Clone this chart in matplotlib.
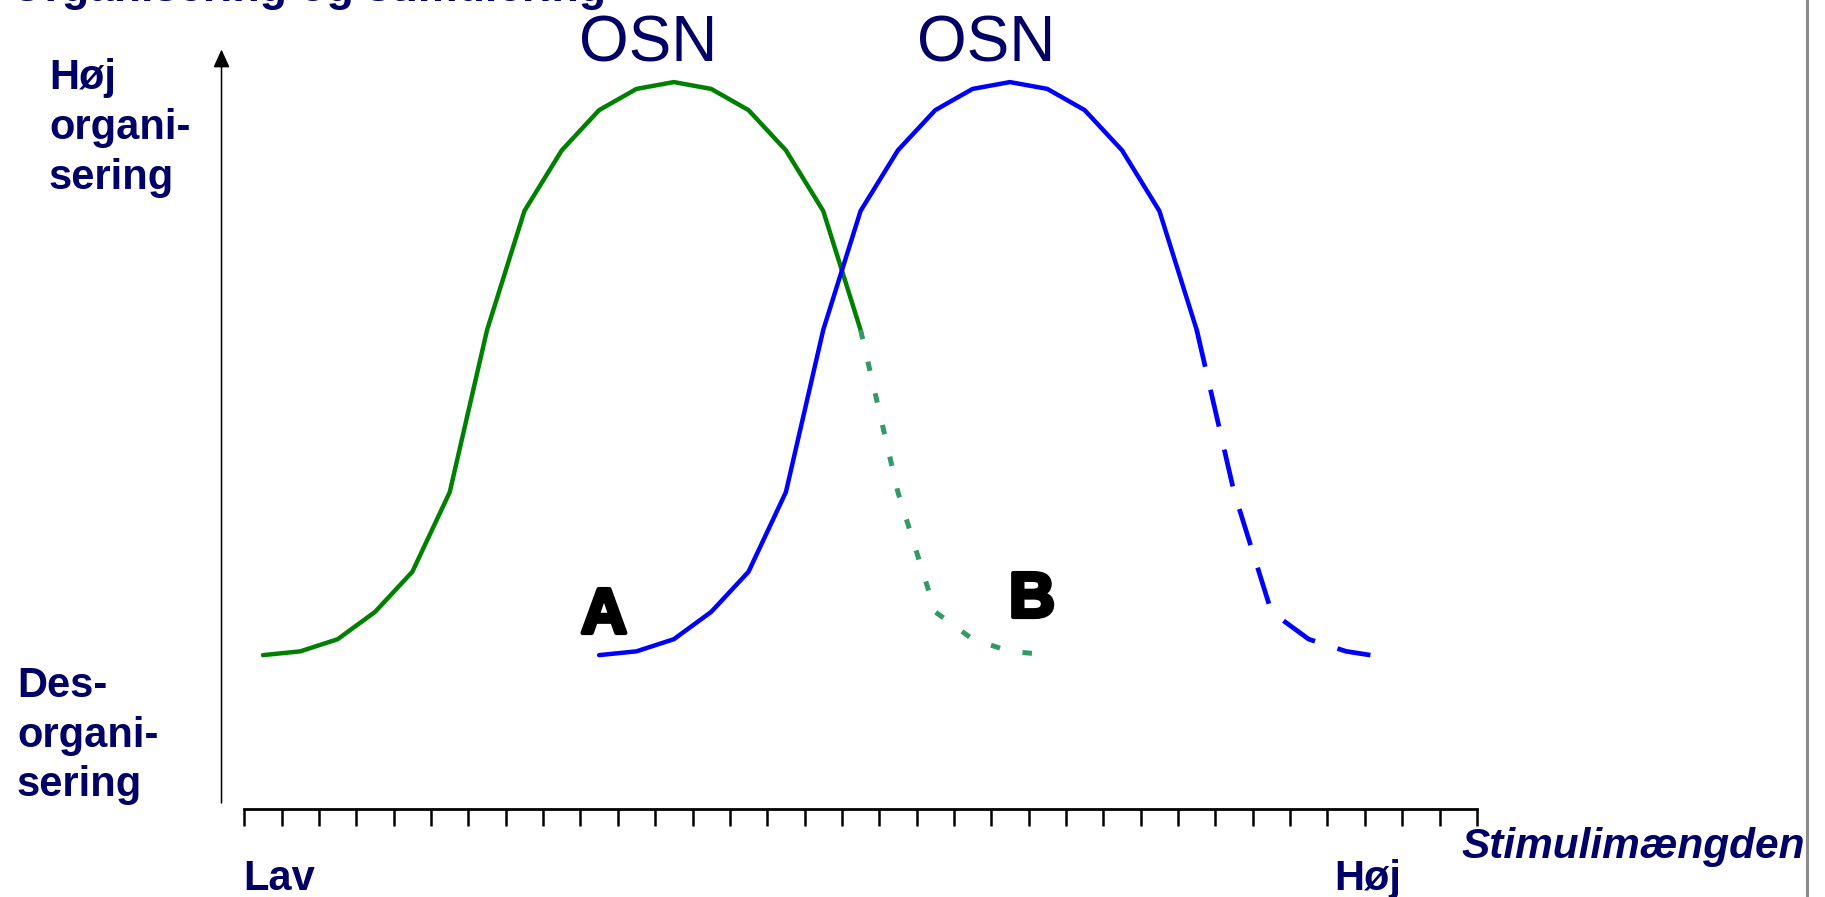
import matplotlib
matplotlib.use("Agg")
import matplotlib.pyplot as plt
import matplotlib.patheffects as pe
from matplotlib.lines import Line2D

# stimulus steps (tick units) and level of organisation (0 = des-, 100 = high)
green_x = [0.5, 1.5, 2.5, 3.5, 4.5, 5.5, 6.5, 7.5, 8.5, 9.5, 10.5, 11.5,
           12.5, 13.5, 14.5, 15.5, 16.5]
green_y = [20.3, 20.8, 22.4, 26.0, 31.3, 41.8, 63.2, 78.9, 86.9, 92.2, 95.0, 95.9,
           95.0, 92.2, 86.9, 78.9, 63.2]
green_drop_x = [16.5, 17.5, 18.5, 19.5, 20.5, 21.6]
green_drop_y = [63.2, 41.8, 26.0, 22.4, 20.8, 20.3]

blue_x = [9.5, 10.5, 11.5, 12.5, 13.5, 14.5, 15.5, 16.5, 17.5, 18.5, 19.5, 20.5,
          21.5, 22.5, 23.5, 24.5, 25.5]
blue_y = [20.3, 20.8, 22.4, 26.0, 31.3, 41.8, 63.2, 78.9, 86.9, 92.2, 95.0, 95.9,
          95.0, 92.2, 86.9, 78.9, 63.2]
blue_drop_x = [25.5, 26.5, 27.5, 28.5, 29.5, 30.15]
blue_drop_y = [63.2, 41.8, 26.0, 22.4, 20.8, 20.3]

n_ticks = 34
peak_labels = ["OSN", "OSN"]
y_top_label = ["Høj", "organi-", "sering"]
y_bottom_label = ["Des-", "organi-", "sering"]

W, H = 1825, 897
navy = "#000066"

fig = plt.figure(figsize=(W / 100, H / 100), dpi=100)
ax = fig.add_axes([0, 0, 1, 1])
# tick 0 sits at x=244 px, 37.35 px per step; level 0 at y=809 px, 7.58 px per unit
ax.set_xlim(-244.3 / 37.35, (W - 244.3) / 37.35)
ax.set_ylim((809 - H) / 7.58, 809 / 7.58)
ax.axis("off")


def fx(x):
    return x / W


def fy(y):
    return 1 - y / H


# curves
ax.plot(green_x, green_y, color="#008000", lw=3.2, solid_capstyle="round")
ax.plot(green_drop_x, green_drop_y, color="#339966", lw=3.6, linestyle=(0, (1.9, 4.6)))
ax.plot(blue_x, blue_y, color="#0000ff", lw=3.2, solid_capstyle="round")
ax.plot(blue_drop_x, blue_drop_y, color="#0000ff", lw=3.4, linestyle=(0, (8.0, 5.0)))

# x axis with ticks
ax.plot([0, n_ticks - 1], [0, 0], color="black", lw=2)
ax.vlines(range(n_ticks), -2.2, 0, color="black", lw=1.8)

# y arrow
ax.annotate("", xy=(-0.61, 100.2), xytext=(-0.61, 0.8),
            arrowprops=dict(arrowstyle="-|>,head_length=0.55,head_width=0.25",
                            mutation_scale=20, lw=1.1, color="black",
                            shrinkA=0, shrinkB=0))

# texts
sans = "Liberation Sans"
fig.text(fx(10), fy(1), "Organisering og stimulering", family=sans, weight="bold",
         size=32, color=navy, va="baseline")
for cx, lab in zip([648, 986], peak_labels):
    fig.text(fx(cx), fy(61), lab, family=sans, size=46, color=navy,
             ha="center", va="baseline")
for yb, line in zip([89, 139, 189], y_top_label):
    fig.text(fx(49), fy(yb), line, family=sans, weight="bold", size=30,
             color=navy, va="baseline")
for yb, line in zip([697, 747, 796], y_bottom_label):
    fig.text(fx(17), fy(yb), line, family=sans, weight="bold", size=30,
             color=navy, va="baseline")
fig.text(fx(243), fy(890), "Lav", family=sans, weight="bold", size=30,
         color=navy, va="baseline")
fig.text(fx(1334), fy(890), "Høj", family=sans, weight="bold", size=30,
         color=navy, va="baseline")
fig.text(fx(1805), fy(858), "Stimulimængden", family=sans, weight="bold",
         style="italic", size=30.5, color=navy, ha="right", va="baseline")
heavy = [pe.withStroke(linewidth=3, foreground="black")]
fig.text(fx(604), fy(633), "A", family=sans, weight="bold",
         size=46, color="black", ha="center", va="baseline", path_effects=heavy)
fig.text(fx(1032), fy(617), "B", family=sans, weight="bold",
         size=46, color="black", ha="center", va="baseline", path_effects=heavy)

# slide edge
fig.add_artist(Line2D([fx(1807), fx(1807)], [0, 1], color="#8c8c8c", lw=2.2))

fig.savefig("out.png", dpi=100)
